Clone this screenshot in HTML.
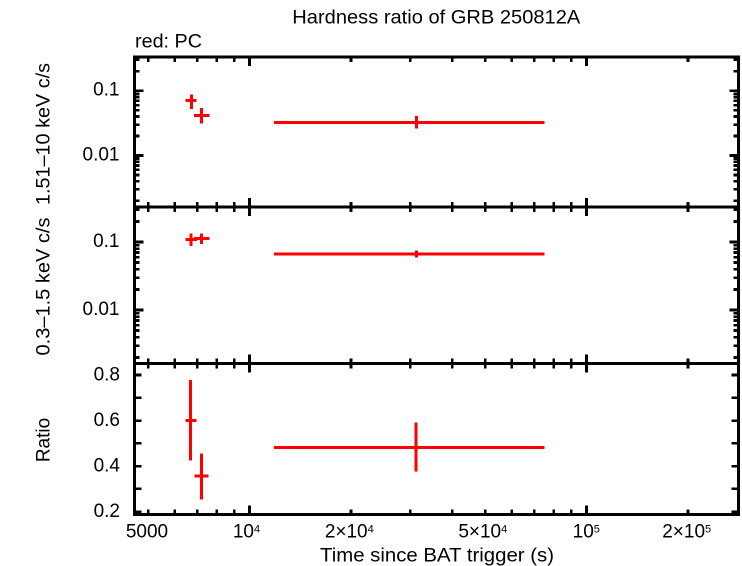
<!DOCTYPE html>
<html><head><meta charset="utf-8"><style>
html,body{margin:0;padding:0;background:#fff;}
svg{display:block;}
</style></head><body>
<svg width="742" height="566" viewBox="0 0 742 566" xmlns="http://www.w3.org/2000/svg" font-family="'Liberation Sans', Arial, sans-serif" fill="#000">
<rect x="0" y="0" width="742" height="566" fill="#fff"/>

<!-- Title -->
<text x="292.3" y="23.3" font-size="19" textLength="288" lengthAdjust="spacingAndGlyphs">Hardness ratio of GRB 250812A</text>
<text x="135" y="47.7" font-size="19" textLength="67" lengthAdjust="spacingAndGlyphs">red: PC</text>

<!-- Frame -->
<g stroke="#000" stroke-width="3" fill="none" shape-rendering="crispEdges">
<rect x="134.5" y="57" width="604" height="457.3"/>
<line x1="134.5" y1="207" x2="738.5" y2="207"/>
<line x1="134.5" y1="363.3" x2="738.5" y2="363.3"/>
</g>

<!-- X ticks -->
<g stroke="#000" stroke-width="2.6" fill="none" shape-rendering="crispEdges">
<path d="M148.05 57v5M174.74 57v5M197.3 57v5M216.84 57v5M234.08 57v5M350.95 57v5M410.29 57v5M452.39 57v5M485.05 57v5M511.74 57v5M534.3 57v5M553.84 57v5M571.08 57v5M687.95 57v5M249.5 57v9M586.5 57v9"/>
<path d="M148.05 202v10M174.74 202v10M197.3 202v10M216.84 202v10M234.08 202v10M350.95 202v10M410.29 202v10M452.39 202v10M485.05 202v10M511.74 202v10M534.3 202v10M553.84 202v10M571.08 202v10M687.95 202v10M249.5 198v18M586.5 198v18"/>
<path d="M148.05 358.3v10M174.74 358.3v10M197.3 358.3v10M216.84 358.3v10M234.08 358.3v10M350.95 358.3v10M410.29 358.3v10M452.39 358.3v10M485.05 358.3v10M511.74 358.3v10M534.3 358.3v10M553.84 358.3v10M571.08 358.3v10M687.95 358.3v10M249.5 354.3v18M586.5 354.3v18"/>
<path d="M148.05 514.3v-5M174.74 514.3v-5M197.3 514.3v-5M216.84 514.3v-5M234.08 514.3v-5M350.95 514.3v-5M410.29 514.3v-5M452.39 514.3v-5M485.05 514.3v-5M511.74 514.3v-5M534.3 514.3v-5M553.84 514.3v-5M571.08 514.3v-5M687.95 514.3v-5M249.5 514.3v-9M586.5 514.3v-9"/>

<!-- Y ticks panel 1 -->
<path d="M134.5 59.78h5M134.5 71.19h5M134.5 93.67h5M134.5 96.98h5M134.5 100.74h5M134.5 105.08h5M134.5 110.21h5M134.5 116.49h5M134.5 124.58h5M134.5 135.99h5M134.5 158.47h5M134.5 161.78h5M134.5 165.54h5M134.5 169.88h5M134.5 175.01h5M134.5 181.29h5M134.5 189.38h5M134.5 200.79h5M134.5 90.7h9M134.5 155.5h9"/>
<path d="M738.5 59.78h-5M738.5 71.19h-5M738.5 93.67h-5M738.5 96.98h-5M738.5 100.74h-5M738.5 105.08h-5M738.5 110.21h-5M738.5 116.49h-5M738.5 124.58h-5M738.5 135.99h-5M738.5 158.47h-5M738.5 161.78h-5M738.5 165.54h-5M738.5 169.88h-5M738.5 175.01h-5M738.5 181.29h-5M738.5 189.38h-5M738.5 200.79h-5M738.5 90.7h-9M738.5 155.5h-9"/>

<!-- Y ticks panel 2 -->
<path d="M134.5 209.56h5M134.5 221.53h5M134.5 245.11h5M134.5 248.59h5M134.5 252.53h5M134.5 257.09h5M134.5 262.47h5M134.5 269.06h5M134.5 277.56h5M134.5 289.53h5M134.5 313.11h5M134.5 316.59h5M134.5 320.53h5M134.5 325.09h5M134.5 330.47h5M134.5 337.06h5M134.5 345.56h5M134.5 357.53h5M134.5 242h9M134.5 310h9"/>
<path d="M738.5 209.56h-5M738.5 221.53h-5M738.5 245.11h-5M738.5 248.59h-5M738.5 252.53h-5M738.5 257.09h-5M738.5 262.47h-5M738.5 269.06h-5M738.5 277.56h-5M738.5 289.53h-5M738.5 313.11h-5M738.5 316.59h-5M738.5 320.53h-5M738.5 325.09h-5M738.5 330.47h-5M738.5 337.06h-5M738.5 345.56h-5M738.5 357.53h-5M738.5 242h-9M738.5 310h-9"/>

<!-- Y ticks panel 3 -->
<path d="M134.5 375h7M134.5 397.8h7M134.5 420.6h7M134.5 443.4h7M134.5 466.1h7M134.5 488.9h7M134.5 511.7h7"/>
<path d="M738.5 375h-7M738.5 397.8h-7M738.5 420.6h-7M738.5 443.4h-7M738.5 466.1h-7M738.5 488.9h-7M738.5 511.7h-7"/>
</g>

<!-- Y tick labels -->
<g font-size="19" text-anchor="end">
<text x="119.5" y="95.7">0.1</text>
<text x="119.5" y="160.5">0.01</text>
<text x="119.5" y="247">0.1</text>
<text x="119.5" y="315">0.01</text>
<text x="120" y="380.5">0.8</text>
<text x="120" y="426.1">0.6</text>
<text x="120" y="471.6">0.4</text>
<text x="120" y="517">0.2</text>
</g>

<!-- X tick labels -->
<g font-size="19" text-anchor="middle">
<text x="147" y="537.7">5000</text>
<text x="246.5" y="537.7">10<tspan font-size="11" dy="-5">4</tspan></text>
<text x="349.3" y="537.7">2×10<tspan font-size="11" dy="-5">4</tspan></text>
<text x="482.8" y="537.7">5×10<tspan font-size="11" dy="-5">4</tspan></text>
<text x="586.3" y="537.7">10<tspan font-size="11" dy="-5">5</tspan></text>
<text x="686.7" y="537.7">2×10<tspan font-size="11" dy="-5">5</tspan></text>
</g>

<!-- Axis titles -->
<text x="320" y="561.7" font-size="19" textLength="234" lengthAdjust="spacingAndGlyphs">Time since BAT trigger (s)</text>
<text transform="translate(49.5,134) rotate(-90)" font-size="19" text-anchor="middle" textLength="142" lengthAdjust="spacingAndGlyphs">1.51–10 keV c/s</text>
<text transform="translate(49.5,286.5) rotate(-90)" font-size="19" text-anchor="middle" textLength="138" lengthAdjust="spacingAndGlyphs">0.3–1.5 keV c/s</text>
<text transform="translate(49.5,440) rotate(-90)" font-size="19" text-anchor="middle">Ratio</text>

<!-- Data -->
<g stroke="#ff0000" stroke-width="3" fill="none" shape-rendering="crispEdges">
<path d="M185.7 100.7H196.7M191.3 94.5V109M194 115.3H209.3M201.3 108V123.7M274 122.3H544.3M416.3 116V128.3"/>
<path d="M185.5 239.3H197M191 233.3V246M194 238.7H209.3M201.5 233.3V244M274 254H544.3M416.3 250.5V257.5"/>
<path d="M185.7 420.3H196.7M190.7 380V460.7M194.3 476H208.7M201.3 453.3V499.3M274 447.3H544.3M416 422.7V471.7"/>
</g>
</svg>
</body></html>
